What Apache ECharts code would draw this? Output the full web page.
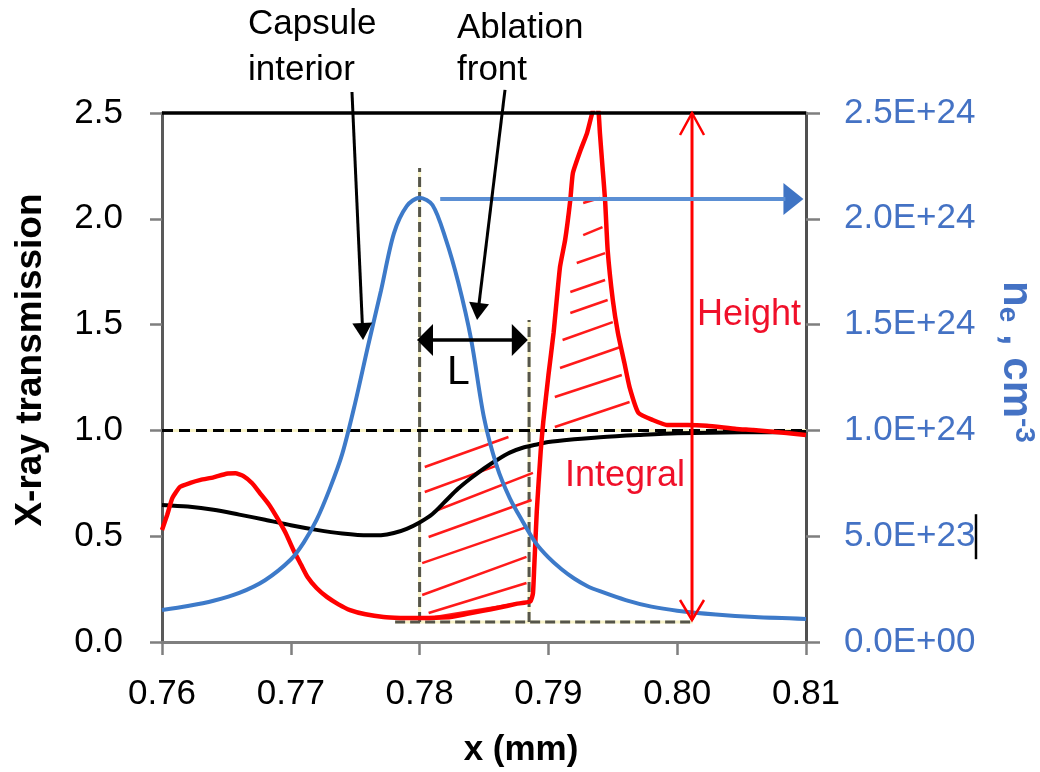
<!DOCTYPE html>
<html><head><meta charset="utf-8">
<script src="https://cdn.jsdelivr.net/npm/echarts@6/dist/echarts.min.js"></script>
<style>html,body{margin:0;padding:0;background:#fff}#c{width:1040px;height:772px}</style>
</head><body><div id="c"></div>
<script>
// ---- axis ranges ----
const xRange = [0.76, 0.81, 0.01];
const yLeftRange = [0, 2.5, 0.5];
const yRightRange = [0, 2.5e24, 5e23];

// ---- red curve (left axis) ----
const redX = [0.7600,0.7604,0.7608,0.7614,0.7622,0.7630,0.7640,0.7650,0.7657,0.7663,0.7670,0.7676,0.7683,0.7689,0.7696,0.7702,0.7708,0.7713,0.7720,0.7728,0.7737,0.7746,0.7758,0.7772,0.7785,0.7798,0.7812,0.7824,0.7837,0.7849,0.7862,0.7875,0.7886,0.7888,0.7889,0.7891,0.7894,0.7896,0.7900,0.7904,0.7909,0.7913,0.7917,0.7919,0.7925,0.7930,0.7934,0.7937,0.7939,0.7940,0.7942,0.7944,0.7946,0.7950,0.7954,0.7959,0.7963,0.7970,0.7981,0.7992,0.8008,0.8023,0.8046,0.8059,0.8085,0.8100];
const redY = [0.529,0.600,0.680,0.733,0.752,0.766,0.778,0.795,0.797,0.785,0.750,0.704,0.650,0.591,0.515,0.435,0.365,0.307,0.255,0.213,0.178,0.151,0.131,0.118,0.114,0.113,0.115,0.118,0.133,0.147,0.163,0.180,0.192,0.230,0.354,0.620,0.900,1.040,1.260,1.460,1.772,1.900,2.089,2.216,2.325,2.405,2.500,2.560,2.500,2.405,2.245,2.089,1.853,1.616,1.460,1.319,1.205,1.082,1.049,1.026,1.026,1.022,1.007,1.002,0.988,0.978];

// ---- black curve: X-ray transmission (left axis) ----
const blackX = [0.760,0.762,0.764,0.766,0.768,0.770,0.772,0.774,0.776,0.777,0.778,0.779,0.780,0.781,0.782,0.783,0.784,0.785,0.786,0.787,0.788,0.789,0.790,0.792,0.794,0.797,0.800,0.805,0.810];
const blackY = [0.648,0.640,0.625,0.602,0.578,0.552,0.530,0.513,0.504,0.505,0.515,0.535,0.565,0.605,0.665,0.725,0.775,0.820,0.860,0.895,0.918,0.932,0.945,0.958,0.968,0.978,0.986,0.991,0.992];

// ---- blue curve: n_e (right axis, cm^-3) ----
const blueX = [0.760,0.762,0.764,0.766,0.768,0.770,0.771,0.772,0.773,0.774,0.775,0.776,0.777,0.778,0.779,0.780,0.781,0.782,0.783,0.784,0.785,0.786,0.787,0.788,0.789,0.790,0.791,0.792,0.793,0.794,0.796,0.798,0.800,0.803,0.806,0.810];
const blueNe = [0.151e24,0.170e24,0.195e24,0.232e24,0.292e24,0.390e24,0.470e24,0.577e24,0.720e24,0.890e24,1.130e24,1.400e24,1.660e24,1.930e24,2.060e24,2.100e24,2.065e24,1.910e24,1.700e24,1.430e24,1.060e24,0.830e24,0.680e24,0.570e24,0.470e24,0.400e24,0.345e24,0.300e24,0.265e24,0.240e24,0.198e24,0.167e24,0.148e24,0.130e24,0.118e24,0.109e24];

// ---- annotation geometry (data units of x / left axis) ----
const hatchLeft = [[0.7804,0.827,0.7869,0.969],[0.7804,0.709,0.7861,0.836],[0.7814,0.624,0.7888,0.799],[0.7807,0.496,0.7887,0.671],[0.7802,0.373,0.7883,0.543],[0.7802,0.222,0.7883,0.402],[0.7807,0.137,0.7883,0.279],[0.7812,0.118,0.7883,0.189]];
const hatchRight = [[0.7927,2.075,0.7940,2.098],[0.7927,1.923,0.7942,1.961],[0.7922,1.791,0.7944,1.838],[0.7917,1.654,0.7944,1.711],[0.7917,1.555,0.7946,1.616],[0.7911,1.427,0.7950,1.512],[0.7909,1.295,0.7956,1.394],[0.7905,1.158,0.7957,1.262],[0.7905,1.016,0.7963,1.134]];
const dashV1 = [0.7800, 0.0945, 2.240];
const dashV2 = [0.7885, 0.0945, 1.522];
const dashBottom = [0.7781, 0.8012, 0.0945];
const unityLevel = 1.0;
const heightArrow = [0.80115, 0.104, 2.5];
const lArrow = [0.7798, 0.7884, 1.427];
const blueArrow = [0.7816, 0.8098, 2.094];
const capsuleArrow = [0.77475, 2.599, 0.77561, 1.427];
const ablationArrow = [0.78663, 2.609, 0.78446, 1.522];
const labelL = [0.78213, 1.271];
const labelHeight = [0.80154, 1.545];
const labelIntegral = [0.79129, 0.784];

const FONT = "'Liberation Sans', Arial, sans-serif";
const zip = (xs, ys) => xs.map((x, i) => [x, ys[i]]);
function sci(v) {
  if (Math.abs(v) < 1) return '0.0E+00';
  let e = Math.floor(Math.log10(v) + 1e-9);
  let m = v / Math.pow(10, e);
  if (m >= 9.95) { m /= 10; e += 1; }
  return m.toFixed(1) + 'E+' + (e < 10 ? '0' + e : e);
}

const chart = echarts.init(document.getElementById('c'), null, {renderer: 'canvas'});
const axisGray = '#7f7f7f';
const option = {
  animation: false,
  backgroundColor: '#ffffff',
  grid: {left: 162, right: 234, top: 113, bottom: 130, containLabel: false},
  xAxis: {
    type: 'value', min: xRange[0], max: xRange[1], interval: xRange[2],
    axisLine: {show: true, onZero: false, lineStyle: {color: axisGray, width: 3}},
    axisTick: {show: true, length: 13, lineStyle: {color: axisGray, width: 2.5}},
    axisLabel: {margin: 35, fontSize: 35, fontFamily: FONT, color: '#000', showMinLabel: true, showMaxLabel: true, formatter: v => v.toFixed(2)},
    splitLine: {show: false}
  },
  yAxis: [{
    type: 'value', min: yLeftRange[0], max: yLeftRange[1], interval: yLeftRange[2], position: 'left',
    axisLine: {show: true, onZero: false, lineStyle: {color: '#5a5a5a', width: 3}},
    axisTick: {show: true, length: 12, lineStyle: {color: axisGray, width: 2.5}},
    axisLabel: {margin: 39, fontSize: 35, fontFamily: FONT, color: '#000', formatter: v => v.toFixed(1)},
    splitLine: {show: false}
  }, {
    type: 'value', min: yRightRange[0], max: yRightRange[1], interval: yRightRange[2], position: 'right',
    axisLine: {show: true, onZero: false, lineStyle: {color: '#505050', width: 3}},
    axisTick: {show: true, length: 14, lineStyle: {color: axisGray, width: 2.5}},
    axisLabel: {margin: 38, fontSize: 35, fontFamily: FONT, color: '#4472c4', formatter: sci},
    splitLine: {show: false}
  }],
  series: [
    {type: 'line', name: 'X-ray transmission', yAxisIndex: 0, data: zip(blackX, blackY), smooth: 0.3, symbol: 'none', lineStyle: {color: '#000', width: 4}, z: 3},
    {type: 'line', name: 'Signal', yAxisIndex: 0, data: zip(redX, redY), smooth: 0.15, symbol: 'none', lineStyle: {color: '#ff0000', width: 4.5}, z: 4},
    {type: 'line', name: 'ne', yAxisIndex: 1, data: zip(blueX, blueNe), smooth: 0.3, symbol: 'none', lineStyle: {color: '#3d7ac9', width: 4}, z: 5}
  ]
};
chart.setOption(option);

const P = p => chart.convertToPixel({xAxisIndex: 0, yAxisIndex: 0}, p);
const G = [];
function seg(A, B, style, z) {
  G.push({type: 'line', silent: true, z: z, shape: {x1: A[0], y1: A[1], x2: B[0], y2: B[1]}, style: style});
}
function dseg(a, b, style, z) { seg(P(a), P(b), style, z); }
function dashed(a, b, color, width, dash) {
  dseg(a, b, {stroke: '#f8f3c8', lineWidth: width}, 1);
  dseg(a, b, {stroke: color, lineWidth: width, lineDash: dash}, 2);
}
function head(T, F, len, half, color, z) {
  const dx = T[0] - F[0], dy = T[1] - F[1], L = Math.hypot(dx, dy), ux = dx / L, uy = dy / L;
  const bx = T[0] - ux * len, by = T[1] - uy * len;
  G.push({type: 'polygon', silent: true, z: z, shape: {points: [[T[0], T[1]], [bx - uy * half, by + ux * half], [bx + uy * half, by - ux * half]]}, style: {fill: color}});
  return [bx + ux * 2, by + uy * 2];
}
function chevron(T, F, len, half, color, w, z) {
  const dx = T[0] - F[0], dy = T[1] - F[1], L = Math.hypot(dx, dy), ux = dx / L, uy = dy / L;
  const bx = T[0] - ux * len, by = T[1] - uy * len;
  G.push({type: 'polyline', silent: true, z: z, shape: {points: [[bx - uy * half, by + ux * half], [T[0], T[1]], [bx + uy * half, by - ux * half]]}, style: {stroke: color, lineWidth: w, fill: null}});
}
function txt(x, y, text, st, z) {
  G.push({type: 'text', silent: true, z: z || 20, x: x, y: y, style: Object.assign({text: text, fontFamily: FONT, fontSize: 35, fill: '#000', align: 'left', verticalAlign: 'middle'}, st)});
}

// top frame line
seg(P([xRange[0], yLeftRange[1]]), P([xRange[1], yLeftRange[1]]), {stroke: '#000', lineWidth: 3.5}, 6);
// dashed guides
dashed([xRange[0], unityLevel], [xRange[1], unityLevel], '#000', 3, [11, 6]);
dashed([dashV1[0], dashV1[1]], [dashV1[0], dashV1[2]], '#55554a', 3, [10, 5]);
dashed([dashV2[0], dashV2[1]], [dashV2[0], dashV2[2]], '#55554a', 3, [10, 5]);
dashed([dashBottom[0], dashBottom[2]], [dashBottom[1], dashBottom[2]], '#55554a', 3, [10, 5]);
// hatching
hatchLeft.concat(hatchRight).forEach(h => dseg([h[0], h[1]], [h[2], h[3]], {stroke: '#ff1a1a', lineWidth: 2.5}, 2));

// height arrow (open chevrons)
{
  const A = P([heightArrow[0], heightArrow[1]]), B = P([heightArrow[0], heightArrow[2]]);
  seg(A, B, {stroke: '#ff0000', lineWidth: 3}, 12);
  chevron(B, A, 22, 12, '#ff0000', 2.5, 12);
  chevron(A, B, 20, 12, '#ff0000', 2.5, 12);
}
// L double arrow
{
  const A = P([lArrow[0], lArrow[2]]), B = P([lArrow[1], lArrow[2]]);
  const a = head(A, B, 16, 16, '#000', 12), b = head(B, A, 16, 16, '#000', 12);
  seg(a, b, {stroke: '#000', lineWidth: 3.5}, 12);
}
// blue arrow
{
  const A = P([blueArrow[0], blueArrow[2]]), B = P([blueArrow[1], blueArrow[2]]);
  const b = head(B, A, 20, 16, '#3f74c4', 12);
  seg(A, b, {stroke: '#5b8fd4', lineWidth: 4}, 12);
}
// capsule / ablation arrows
[capsuleArrow, ablationArrow].forEach(c => {
  const A = P([c[0], c[1]]), B = P([c[2], c[3]]);
  const b = head(B, A, 17, 10, '#000', 12);
  seg(A, b, {stroke: '#000', lineWidth: 3}, 12);
});

// in-plot labels
{
  const l = P(labelL); txt(l[0], l[1], 'L', {fontSize: 41});
  const h = P(labelHeight); txt(h[0], h[1], 'Height', {fontSize: 36, fill: '#f0102a'});
  const g = P(labelIntegral); txt(g[0], g[1], 'Integral', {fontSize: 36, fill: '#f0102a'});
}
// top labels
txt(248, 24, 'Capsule', {});
txt(248, 70, 'interior', {});
txt(457, 28, 'Ablation', {});
txt(457, 70, 'front', {});
// axis titles
G.push({type: 'text', silent: true, z: 20, x: 31, y: 360, rotation: Math.PI / 2,
  style: {text: 'X-ray transmission', fontFamily: FONT, fontSize: 37, fontWeight: 'bold', fill: '#000', align: 'center', verticalAlign: 'middle'}});
txt(521, 750, 'x (mm)', {fontWeight: 'bold', align: 'center'});
G.push({type: 'text', silent: true, z: 20, x: 1016, y: 362, rotation: -Math.PI / 2,
  style: {text: '{a|n}{b|e}{a| , cm}{c|-3}', fontFamily: FONT, fontSize: 42, fontWeight: 'bold', fill: '#4472c4', align: 'center', verticalAlign: 'middle',
    rich: {
      a: {fontFamily: FONT, fontSize: 42, fontWeight: 'bold', fill: '#4472c4', lineHeight: 44},
      b: {fontFamily: FONT, fontSize: 28, fontWeight: 'bold', fill: '#4472c4', lineHeight: 28, verticalAlign: 'bottom'},
      c: {fontFamily: FONT, fontSize: 28, fontWeight: 'bold', fill: '#4472c4', lineHeight: 28, verticalAlign: 'top'}
    }}});
// text cursor mark after the 5.0E+23 label
{
  const yc = chart.convertToPixel({yAxisIndex: 1}, yRightRange[2]);
  seg([976, yc - 22], [976, yc + 23], {stroke: '#000', lineWidth: 2.5}, 20);
}

chart.setOption({graphic: G});
</script>
</body></html>
